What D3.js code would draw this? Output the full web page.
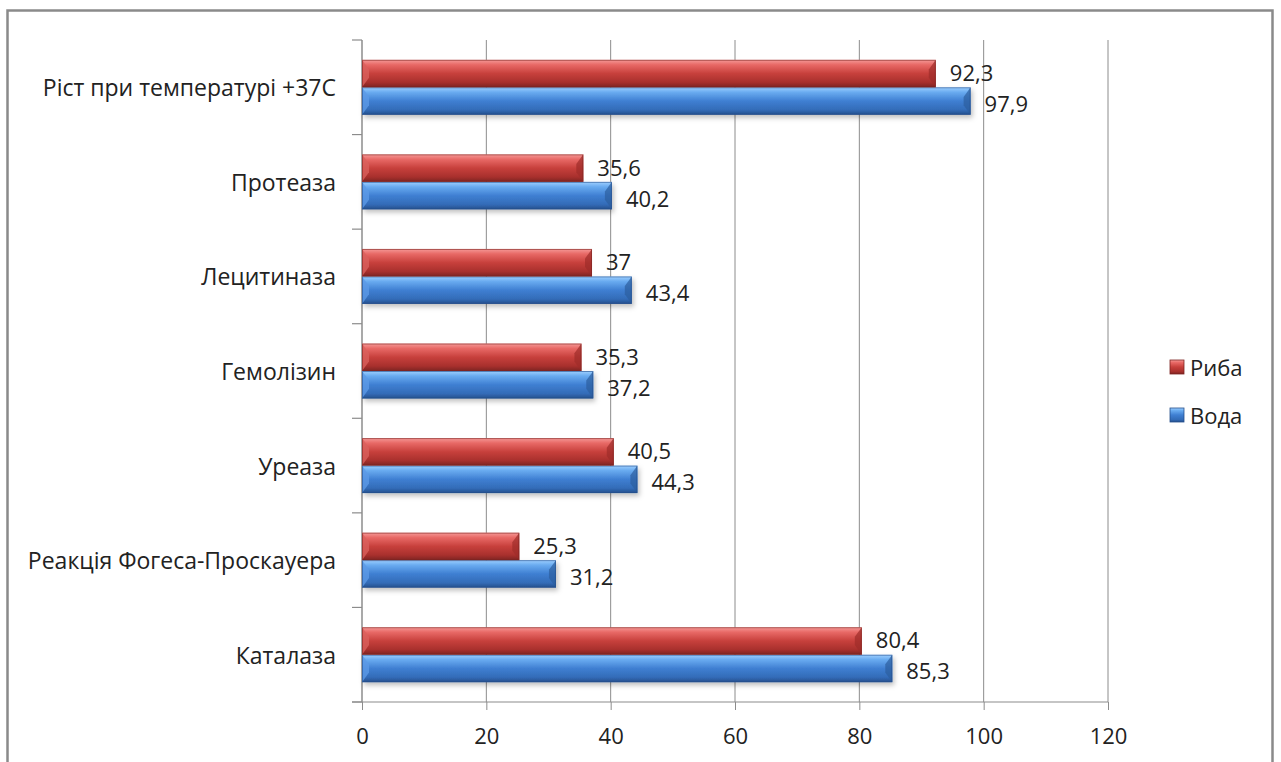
<!DOCTYPE html>
<html>
<head>
<meta charset="utf-8">
<script src="https://cdn.jsdelivr.net/npm/d3@7"></script>
<style>
  html, body { margin: 0; padding: 0; background: #fff; }
  svg { display: block; }
  text { font-family: "Open Sans", "Noto Sans", sans-serif; fill: #222; }
</style>
</head>
<body>
<svg id="chart" width="1281" height="762"></svg>
<script>
// Categories listed top to bottom
const categories = [
  "Ріст при температурі +37С",
  "Протеаза",
  "Лецитиназа",
  "Гемолізин",
  "Уреаза",
  "Реакція Фогеса-Проскауера",
  "Каталаза"
];
const seriesNames = ["Риба", "Вода"];
const ryba = [92.3, 35.6, 37, 35.3, 40.5, 25.3, 80.4];
const voda = [97.9, 40.2, 43.4, 37.2, 44.3, 31.2, 85.3];
const xTicks = [0, 20, 40, 60, 80, 100, 120];

const fmt = v => String(v).replace(".", ",");

const svg = d3.select("#chart");
const W = 1281, H = 762;
const margin = { left: 362, right: W - 1108, top: 40, bottom: H - 702 };

// Outer frame
svg.append("rect")
  .attr("x", 7.5).attr("y", 10.5)
  .attr("width", 1265).attr("height", 800)
  .attr("fill", "#fff").attr("stroke", "#8a8a8a").attr("stroke-width", 2.5);

const defs = svg.append("defs");
const palettes = {
  "Риба": { top: "#f59a98", hi: "#e86966", mid: "#c7403c", low: "#a8302d", bot: "#7d2422", bevel: "#d9605c", end: "#9e2c29" },
  "Вода": { top: "#9fd0ff", hi: "#69abf0", mid: "#3f7fd2", low: "#336cb8", bot: "#254f8c", bevel: "#5c9ae6", end: "#2c5e9e" }
};
seriesNames.forEach((s, i) => {
  const p = palettes[s];
  const g = defs.append("linearGradient").attr("id", "grad" + i)
    .attr("x1", 0).attr("y1", 0).attr("x2", 0).attr("y2", 1);
  [[0, p.top], [0.18, p.hi], [0.5, p.mid], [0.82, p.low], [1, p.bot]]
    .forEach(([o, c]) => g.append("stop").attr("offset", o).attr("stop-color", c));
});
const sh = defs.append("filter").attr("id", "shadow")
  .attr("x", "-5%").attr("y", "-20%").attr("width", "110%").attr("height", "160%");
sh.append("feDropShadow").attr("dx", 2).attr("dy", 3).attr("stdDeviation", 2.5)
  .attr("flood-color", "#000").attr("flood-opacity", 0.25);

const x = d3.scaleLinear().domain([0, 120]).range([margin.left, W - margin.right]);
const y = d3.scaleBand().domain(categories).range([margin.top, H - margin.bottom]).paddingInner(0).paddingOuter(0);
const inner = d3.scaleBand().domain(seriesNames).range([0, y.bandwidth()]).paddingInner(0).paddingOuter(0.72);

// Vertical gridlines
svg.append("g").selectAll("line").data(xTicks.filter(t => t > 0)).join("line")
  .attr("x1", d => x(d)).attr("x2", d => x(d))
  .attr("y1", margin.top).attr("y2", H - margin.bottom)
  .attr("stroke", "#8c8c8c").attr("stroke-width", 1);

// Bottom axis
const xAxis = svg.append("g").attr("transform", `translate(0,${H - margin.bottom})`)
  .call(d3.axisBottom(x).tickValues(xTicks).tickSize(8).tickSizeOuter(0).tickPadding(18));
xAxis.select(".domain").attr("stroke", "#8c8c8c").attr("stroke-width", 1.2)
  .attr("d", `M${x(0) - 10},0H${x(120)}`);
xAxis.selectAll(".tick line").attr("stroke", "#8c8c8c");
xAxis.selectAll(".tick text").style("font-size", "22px").attr("fill", "#222")
  .style("font-family", "'Open Sans', 'Noto Sans', sans-serif");

// Left axis with ticks on category boundaries
const yEdges = categories.map(c => y(c)).concat([H - margin.bottom]);
svg.append("line").attr("x1", x(0)).attr("x2", x(0))
  .attr("y1", margin.top).attr("y2", H - margin.bottom)
  .attr("stroke", "#8c8c8c").attr("stroke-width", 1.5);
svg.append("g").selectAll("line").data(yEdges).join("line")
  .attr("x1", x(0) - 10).attr("x2", x(0))
  .attr("y1", d => d).attr("y2", d => d)
  .attr("stroke", "#8c8c8c").attr("stroke-width", 1.2);

// Category labels
svg.append("g").selectAll("text").data(categories).join("text")
  .attr("x", 336).attr("y", d => y(d) + y.bandwidth() / 2)
  .attr("text-anchor", "end").attr("dominant-baseline", "central")
  .style("font-size", "23px").text(d => d);

// Bars
const rows = [];
categories.forEach((c, i) => {
  rows.push({ cat: c, s: "Вода", si: 1, v: voda[i] });
  rows.push({ cat: c, s: "Риба", si: 0, v: ryba[i] });
});

const bars = svg.append("g").selectAll("g.bar").data(rows).join("g").attr("class", "bar")
  .attr("transform", d => `translate(0,${y(d.cat) + inner(d.s)})`);
const bh = inner.bandwidth();
const bev = 7;
bars.append("rect")
  .attr("x", x(0)).attr("y", 0)
  .attr("width", d => x(d.v) - x(0)).attr("height", bh)
  .attr("fill", d => `url(#grad${d.si})`)
  .attr("filter", d => d.si === 1 ? "url(#shadow)" : null);
// left bevel facet
bars.append("path")
  .attr("d", d => `M${x(0)},0L${x(0) + bev},${bh * 0.35}L${x(0) + bev},${bh * 0.65}L${x(0)},${bh}Z`)
  .attr("fill", d => palettes[d.s].bevel).attr("opacity", 0.8);
// right end facet
bars.append("path")
  .attr("d", d => `M${x(d.v)},0L${x(d.v) - bev},${bh * 0.35}L${x(d.v) - bev},${bh * 0.65}L${x(d.v)},${bh}Z`)
  .attr("fill", d => palettes[d.s].end).attr("opacity", 0.7);
// outline
bars.append("rect")
  .attr("x", x(0) + 0.5).attr("y", 0.5)
  .attr("width", d => x(d.v) - x(0) - 1).attr("height", bh - 1)
  .attr("fill", "none").attr("stroke", d => palettes[d.s].bot).attr("stroke-opacity", 0.6);

// Value labels, nudged apart so the two labels of a pair stay clear of each other
bars.append("text")
  .attr("x", d => x(d.v) + 14).attr("y", d => bh / 2 + (d.si === 0 ? -1.5 : 2))
  .attr("dominant-baseline", "central")
  .style("font-size", "22px").text(d => fmt(d.v));

// Legend
const legend = svg.append("g").selectAll("g").data(seriesNames).join("g")
  .attr("transform", (d, i) => `translate(1170,${367 + i * 48})`);
legend.append("rect").attr("x", 0).attr("y", -7).attr("width", 14).attr("height", 14)
  .attr("fill", (d, i) => `url(#grad${i})`).attr("stroke", d => palettes[d].bot).attr("stroke-width", 0.8);
legend.append("text").attr("x", 20).attr("y", 0).attr("dominant-baseline", "central")
  .style("font-size", "22px").text(d => d);
</script>
</body>
</html>
